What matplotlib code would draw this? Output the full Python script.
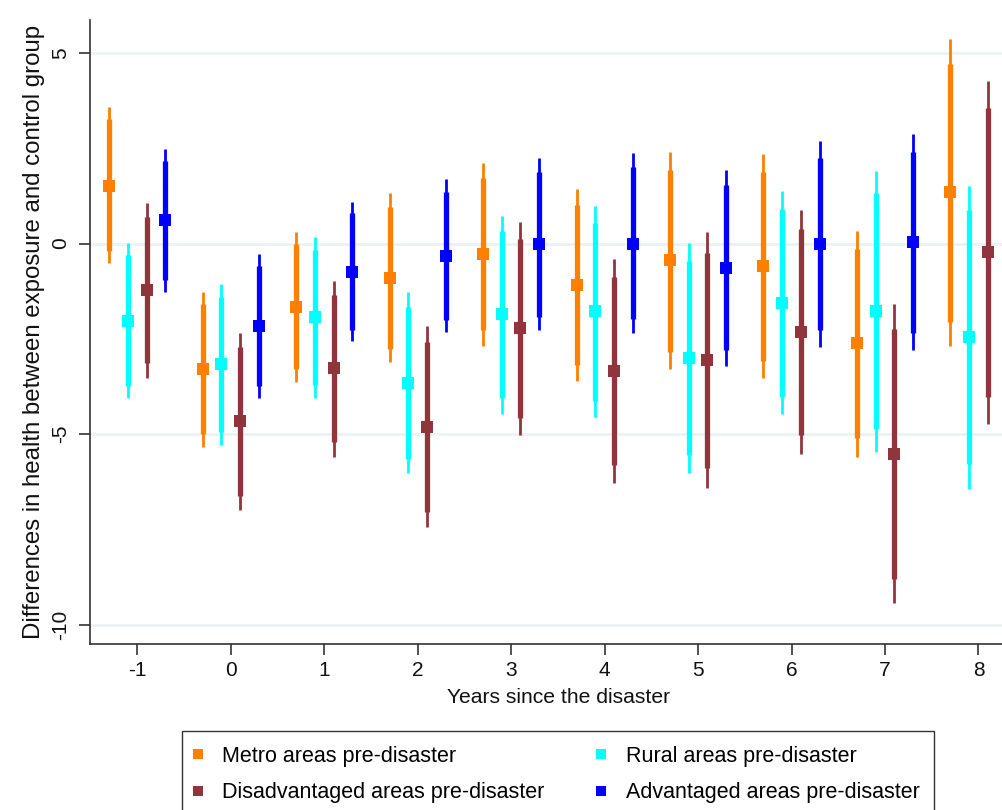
import numpy as np
import matplotlib
matplotlib.use('Agg')
import matplotlib.pyplot as plt
from matplotlib.lines import Line2D

plt.rcParams['font.family'] = ['Liberation Sans', 'DejaVu Sans']

years = np.array([-1, 0, 1, 2, 3, 4, 5, 6, 7, 8])
nan = np.nan

# Metro areas pre-disaster
metro_est  = [1.52, -3.30, -1.67, -0.91, -0.28, -1.09, -0.43, -0.59, -2.62, 1.34]
metro_hi90 = [3.26, -1.59, -0.01, 0.95, 1.71, 1.01, 1.94, 1.87, -0.15, 4.71]
metro_lo90 = [-0.19, -4.99, -3.30, -2.77, -2.28, -3.18, -2.84, -3.07, -5.11, -2.05]
metro_hi95 = [3.59, -1.28, 0.30, 1.32, 2.10, 1.42, 2.41, 2.35, 0.34, 5.35]
metro_lo95 = [-0.52, -5.33, -3.62, -3.11, -2.68, -3.60, -3.30, -3.53, -5.59, -2.69]

# Rural areas pre-disaster
rural_est  = [-2.02, -3.16, -1.93, -3.66, -1.85, -1.77, -3.01, -1.57, -1.77, -2.46]
rural_hi90 = [-0.30, -1.41, -0.17, -1.67, 0.33, 0.55, -0.46, 0.90, 1.32, 0.88]
rural_lo90 = [-3.74, -4.93, -3.71, -5.66, -4.06, -4.12, -5.54, -4.02, -4.87, -5.79]
rural_hi95 = [0.02, -1.07, 0.16, -1.28, 0.73, 0.99, 0.02, 1.38, 1.91, 1.52]
rural_lo95 = [-4.06, -5.28, -4.06, -6.02, -4.48, -4.56, -6.01, -4.48, -5.46, -6.44]

# Disadvantaged areas pre-disaster
disadv_est  = [-1.22, -4.65, -3.27, -4.80, -2.22, -3.34, -3.05, -2.33, -5.53, -0.23]
disadv_hi90 = [0.70, -2.72, -1.35, -2.57, 0.11, -0.89, -0.26, 0.37, -2.24, 3.54]
disadv_lo90 = [-3.14, -6.61, -5.21, -7.03, -4.57, -5.82, -5.88, -5.02, -8.80, -4.02]
disadv_hi95 = [1.07, -2.35, -0.97, -2.15, 0.56, -0.41, 0.29, 0.88, -1.59, 4.26]
disadv_lo95 = [-3.52, -6.99, -5.59, -7.43, -5.02, -6.29, -6.42, -5.53, -9.43, -4.73]

# Advantaged areas pre-disaster (year 8 falls outside the cropped picture)
adv_est  = [0.62, -2.16, -0.74, -0.33, -0.01, 0.00, -0.65, -0.01, 0.03, nan]
adv_hi90 = [2.16, -0.59, 0.79, 1.36, 1.87, 2.00, 1.53, 2.23, 2.39, nan]
adv_lo90 = [-0.96, -3.74, -2.27, -2.01, -1.92, -1.99, -2.79, -2.28, -2.34, nan]
adv_hi95 = [2.47, -0.28, 1.08, 1.68, 2.23, 2.38, 1.94, 2.69, 2.86, nan]
adv_lo95 = [-1.26, -4.04, -2.56, -2.33, -2.28, -2.35, -3.21, -2.72, -2.79, nan]

series = [
    ('Metro areas pre-disaster', '#FF8000', -0.3, metro_est, metro_lo90, metro_hi90, metro_lo95, metro_hi95),
    ('Rural areas pre-disaster', '#00FFFF', -0.1, rural_est, rural_lo90, rural_hi90, rural_lo95, rural_hi95),
    ('Disadvantaged areas pre-disaster', '#90353B', 0.1, disadv_est, disadv_lo90, disadv_hi90, disadv_lo95, disadv_hi95),
    ('Advantaged areas pre-disaster', '#0000FF', 0.3, adv_est, adv_lo90, adv_hi90, adv_lo95, adv_hi95),
]

fig = plt.figure(figsize=(10.02, 8.10), dpi=100)
# the original graph was cropped on the right, so the axes run past the figure edge
ax = fig.add_axes([90/1002, 166/810, 938/1002, 624/810])

for name, col, off, est, lo90, hi90, lo95, hi95 in series:
    x = years + off
    ax.vlines(x, lo95, hi95, color=col, lw=2.0, capstyle='butt', zorder=2)
    ax.vlines(x, lo90, hi90, color=col, lw=3.8, capstyle='butt', zorder=3)
    ax.plot(x, est, 's', color=col, ms=8.6, mew=0, zorder=4)

ax.set_xlim(-1.506, 8.53)
ax.set_ylim(-10.5, 5.86)
ax.set_xticks(years)
ax.set_xticklabels([str(y) for y in years])
ax.set_yticks([5, 0, -5, -10])
ax.set_yticklabels(['5', '0', '-5', '-10'], rotation=90, va='center')
ax.yaxis.grid(True, color='#EAF2F3', lw=2.0)
ax.set_axisbelow(True)

for s in ['top', 'right']:
    ax.spines[s].set_visible(False)
for s in ['left', 'bottom']:
    ax.spines[s].set_color('#333333')
    ax.spines[s].set_linewidth(1.2)
ax.tick_params(axis='both', direction='out', length=8, width=1.2, color='#333333',
               labelsize=15, labelcolor='#111111')
ax.tick_params(axis='y', pad=6)
ax.tick_params(axis='x', pad=4)

ax.set_xlabel('Years since the disaster', fontsize=15.2, color='#111111', labelpad=6)
ax.set_ylabel('Differences in health between exposure and control group', fontsize=17.3,
              color='#111111', labelpad=5)

handles = [Line2D([], [], marker='s', ls='none', color=s[1], ms=7, mew=0) for s in series]
labels = [s[0] for s in series]
order = [0, 2, 1, 3]
leg = fig.legend([handles[i] for i in order], [labels[i] for i in order],
                 loc='upper left', bbox_to_anchor=(182/1002, 79/810),
                 ncol=2, fontsize=15.5, frameon=True, fancybox=False,
                 edgecolor='black', borderaxespad=0, borderpad=0.68, handlelength=0.1,
                 handletextpad=1.1, labelspacing=0.72, columnspacing=2.55)
leg.get_frame().set_linewidth(1.0)

fig.savefig('out.png', dpi=100)
